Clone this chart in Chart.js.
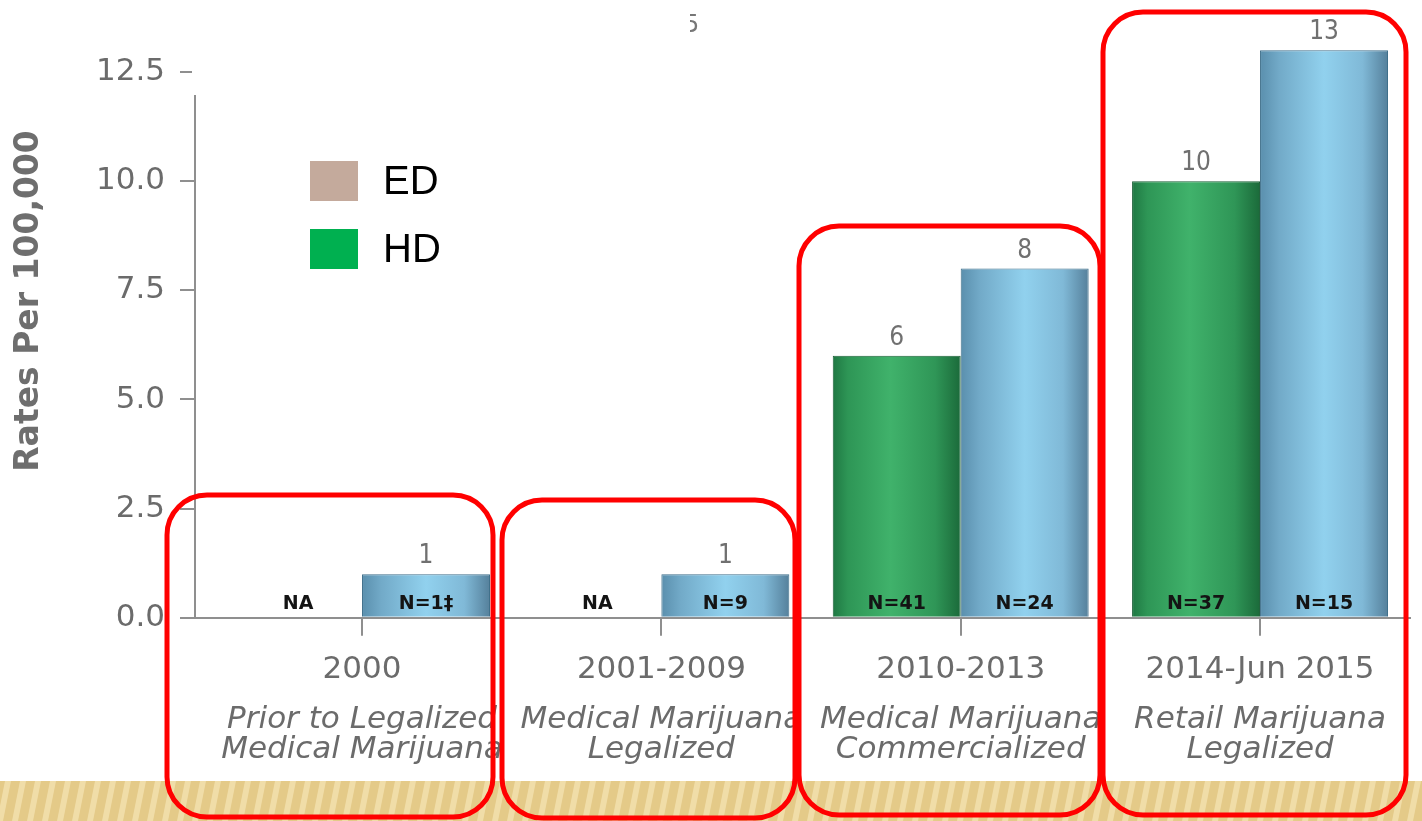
<!DOCTYPE html>
<html><head><meta charset="utf-8">
<script src="https://cdn.jsdelivr.net/npm/chart.js@4.4.1/dist/chart.umd.min.js"></script>
<style>html,body{margin:0;padding:0;background:#fff;}canvas{display:block;}</style>
</head><body>
<canvas id="c" width="1422" height="821"></canvas>
<script>
const categories = ['2000', '2001-2009', '2010-2013', '2014-Jun 2015'];
const periodLabels = [
  ['Prior to Legalized', 'Medical Marijuana'],
  ['Medical Marijuana', 'Legalized'],
  ['Medical Marijuana', 'Commercialized'],
  ['Retail Marijuana', 'Legalized']
];
const hdValues = [null, null, 6, 10];
const blueValues = [1, 1, 8, 13];
const hdCountLabels = ['NA', 'NA', 'N=41', 'N=37'];
const blueCountLabels = ['N=1\u2021', 'N=9', 'N=24', 'N=15'];
const yTickLabels = ['0.0', '2.5', '5.0', '7.5', '10.0', '12.5'];
const legendLabels = ['ED', 'HD'];
const legendColors = ['#c4aa9c', '#00b050'];
const yTitle = 'Rates Per 100,000';
const fragmentText = '5';

const CAT_PCT = 0.855;
const GRAY = '#6b6b6b';
const AXIS = '#8f8f8f';

function barFill(stops, solid) {
  return function (ctx) {
    const chart = ctx.chart; const xs = chart.scales && chart.scales.x;
    if (!chart.chartArea || !xs || ctx.dataIndex === undefined) return solid;
    const step = xs.getPixelForValue(1) - xs.getPixelForValue(0);
    const w = step * CAT_PCT / 2;
    const center = xs.getPixelForValue(ctx.dataIndex);
    const left = ctx.datasetIndex === 0 ? center - w : center;
    if (!isFinite(left) || !isFinite(w)) return solid;
    const g = chart.ctx.createLinearGradient(left, 0, left + w, 0);
    stops.forEach(s => g.addColorStop(s[0], s[1]));
    return g;
  };
}
const greenStops = [[0, '#1f7843'], [0.12, '#2e9656'], [0.45, '#40b26b'], [0.8, '#2f9657'], [1, '#1b6a3a']];
const blueStops = [[0, '#5a8fad'], [0.15, '#72aac8'], [0.5, '#91d1ee'], [0.8, '#80b9d7'], [1, '#55809b']];

function shiftCategories(scale) {
  scale._startValue = -0.558;
  scale._valueRange = 4.059;
}

const decor = {
  id: 'decor',
  beforeDraw(chart) {
    const c = chart.ctx;
    c.save();
    c.fillStyle = '#ffffff';
    c.fillRect(0, 0, chart.width, chart.height);
    c.fillStyle = '#e4ca88';
    c.fillRect(0, 781, chart.width, 40);
    c.beginPath(); c.rect(0, 781, chart.width, 40); c.clip();
    c.fillStyle = 'rgba(248,234,190,0.6)';
    for (let x = -40; x < chart.width + 40; x += 15) {
      c.beginPath();
      c.moveTo(x, 781); c.lineTo(x + 6, 781); c.lineTo(x - 2, 821); c.lineTo(x - 8, 821);
      c.closePath(); c.fill();
    }
    c.restore();
  },
  afterDatasetsDraw(chart) {
    const c = chart.ctx;
    const m0 = chart.getDatasetMeta(0), m1 = chart.getDatasetMeta(1);
    c.save();
    c.textAlign = 'center';
    c.textBaseline = 'alphabetic';
    const base = chart.scales.y.getPixelForValue(0);
    for (let i = 0; i < categories.length; i++) {
      const b1 = m1.data[i];
      const w = b1.width;
      const cx1 = b1.x, cx0 = b1.x - w;
      c.fillStyle = '#707070';
      c.font = '26px "DejaVu Sans Condensed", "DejaVu Sans", sans-serif';
      if (blueValues[i] !== null) c.fillText(String(blueValues[i]), cx1, b1.y - 11);
      if (hdValues[i] !== null) c.fillText(String(hdValues[i]), cx0, m0.data[i].y - 11);
      c.fillStyle = '#141414';
      c.font = 'bold 19px "DejaVu Sans", sans-serif';
      c.fillText(blueCountLabels[i], cx1, base - 9);
      c.fillText(hdCountLabels[i], cx0, base - 9);
    }
    c.restore();
  },
  afterDraw(chart) {
    const c = chart.ctx;
    c.save();
    c.fillStyle = '#777';
    c.font = '24px "DejaVu Sans", sans-serif';
    c.textAlign = 'left'; c.textBaseline = 'alphabetic';
    c.fillText(fragmentText, 684, 32);
    c.fillStyle = '#ffffff';
    c.fillRect(192, 0, 498, 95);
    c.save();
    c.translate(29, 301);
    c.rotate(-Math.PI / 2);
    c.fillStyle = '#6e6e6e';
    c.font = 'bold 33px "DejaVu Sans", sans-serif';
    c.textAlign = 'center'; c.textBaseline = 'middle';
    c.fillText(yTitle, 0, 0);
    c.restore();
    c.font = '40px "Liberation Sans", Arial, sans-serif';
    c.textAlign = 'left'; c.textBaseline = 'middle';
    for (let i = 0; i < legendLabels.length; i++) {
      const y = 161 + i * 68;
      c.fillStyle = legendColors[i];
      c.fillRect(310, y, 48, 40);
      c.fillStyle = '#000';
      c.fillText(legendLabels[i], 383, y + 22);
    }
    c.strokeStyle = '#ff0000';
    c.lineWidth = 5;
    const boxes = [[167, 495, 326, 322], [502, 500, 293, 318], [799, 226, 301, 589], [1103, 12, 303, 803]];
    boxes.forEach(b => {
      c.beginPath();
      c.roundRect(b[0], b[1], b[2], b[3], 40);
      c.stroke();
    });
    c.restore();
  }
};

new Chart(document.getElementById('c'), {
  type: 'bar',
  data: {
    labels: categories,
    datasets: [
      { label: 'HD', data: hdValues, backgroundColor: barFill(greenStops, '#2f9a58'), borderColor: '#1a5f36', borderWidth: 1, categoryPercentage: CAT_PCT, barPercentage: 1 },
      { label: 'Blue', data: blueValues, backgroundColor: barFill(blueStops, '#7fbedf'), borderColor: '#3f6f8a', borderWidth: 1, categoryPercentage: CAT_PCT, barPercentage: 1 }
    ]
  },
  options: {
    responsive: false,
    animation: false,
    devicePixelRatio: 1,
    layout: { padding: { top: 6, right: 12, bottom: 56, left: 0 } },
    plugins: { legend: { display: false }, tooltip: { enabled: false } },
    scales: {
      x: {
        position: 'bottom', weight: 0,
        afterBuildTicks: shiftCategories,
        border: { display: true, color: AXIS, width: 2 },
        grid: { display: true, drawOnChartArea: false, drawTicks: true, tickLength: 18, color: AXIS, lineWidth: 2, offset: false },
        ticks: { autoSkip: false, maxRotation: 0, padding: 16, color: GRAY, font: { family: '"DejaVu Sans", sans-serif', size: 31, lineHeight: 1.2 } }
      },
      x2: {
        type: 'category', position: 'bottom', weight: 1,
        labels: periodLabels,
        afterBuildTicks: shiftCategories,
        border: { display: false },
        grid: { display: false, drawTicks: false, tickLength: 0 },
        ticks: { autoSkip: false, maxRotation: 0, padding: 0, color: GRAY, font: { family: '"DejaVu Sans", sans-serif', size: 31, style: 'italic', lineHeight: '30px' } }
      },
      y: {
        min: 0, max: 13.38,
        afterFit: s => { s.width = 195; },
        border: { display: true, color: AXIS, width: 2 },
        grid: { drawOnChartArea: false, drawTicks: true, tickLength: 15, color: AXIS, lineWidth: 2 },
        ticks: {
          stepSize: 2.5, includeBounds: false, padding: 15, color: GRAY,
          font: { family: '"DejaVu Sans", sans-serif', size: 31 },
          callback: (v, i) => yTickLabels[i]
        }
      }
    }
  },
  plugins: [decor]
});
</script>
</body></html>
